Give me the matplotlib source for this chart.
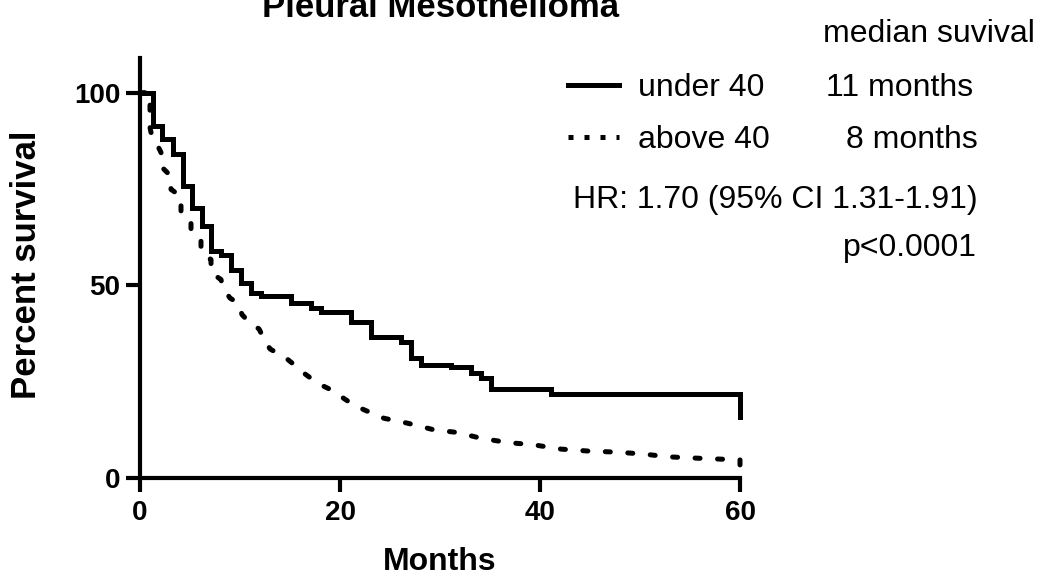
import matplotlib
matplotlib.use('Agg')
import matplotlib.pyplot as plt
from matplotlib.lines import Line2D

plt.rcParams['font.family'] = ['Liberation Sans', 'DejaVu Sans']

# 数据：Kaplan-Meier 曲线
under40_t = [0, 1.3, 2.2, 3.3, 4.3, 5.2, 6.2, 7.1, 8.1, 9.1, 10.1, 11.1, 12.1, 15.1, 17.1, 18.1,
             21.1, 23.1, 26.1, 27.1, 28.1, 31.1, 33.1, 34.1, 35.1, 41.1, 60]
under40_s = [100, 91.3, 87.9, 84.0, 75.8, 70.2, 65.4, 58.9, 58.0, 54.1, 50.7, 48.1, 47.2, 45.5, 44.0, 43.0,
             40.6, 36.7, 35.4, 31.2, 29.4, 28.9, 27.3, 26.0, 23.1, 21.8, 15.9]

# above 40：事件很密，按曲线上读到的点连线
above40_t = [0, 1.0, 1.0, 1.1, 2.1, 2.1, 3.1, 3.1, 4.1, 4.1, 5.1, 5.1, 6.1, 6.1, 7.1, 7.1, 8.1, 8.3, 9.0,
             9.8, 10.2, 11.0, 11.9, 12.4, 13.0, 14.0, 14.8, 15.7, 16.5, 17.4, 18.3, 19.1, 21.1, 22.4,
             24.4, 26.8, 29.4, 31.8, 34.1, 36.8, 39.4, 42.1, 44.8, 47.8, 50.4, 52.8, 56.1, 60, 60]
above40_s = [100, 100, 91.0, 89.7, 84.5, 80.9, 78.3, 74.9, 73.1, 69.2, 67.1, 64.0, 61.9, 58.5, 56.7, 53.3, 51.5, 49.3, 46.7,
             45.4, 42.4, 40.2, 38.7, 36.1, 33.5, 32.0, 30.7, 28.8, 27.0, 25.3, 23.9, 22.9, 19.4, 17.7,
             15.5, 14.2, 12.5, 11.8, 10.3, 9.2, 8.6, 7.5, 7.0, 6.7, 6.2, 5.5, 5.1, 4.7, 3.4]

labels = ['under 40', 'above 40']
medians = ['11 months', '8 months']
xticks = [0, 20, 40, 60]
yticks = [0, 50, 100]

W, H = 1043, 578
fig = plt.figure(figsize=(W / 100, H / 100), dpi=100)
ax = fig.add_axes([140 / W, 1 - 478 / H, 600 / W, 420 / H])

ax.step(under40_t, under40_s, where='post', color='black', lw=3.6, clip_on=False,
        solid_joinstyle='miter')
ax.plot(above40_t, above40_s, color='black', lw=3.6, clip_on=False,
        linestyle=(0, (1, 3.5)), dash_capstyle='round')

ax.set_xlim(0, 60)
ax.set_ylim(0, 109)
ax.set_xticks(xticks)
ax.set_yticks(yticks)
for s in ['top', 'right']:
    ax.spines[s].set_visible(False)
for s in ['left', 'bottom']:
    ax.spines[s].set_linewidth(3)
ax.tick_params(width=3, length=10, labelsize=20)
ax.tick_params(axis='x', pad=6)
ax.tick_params(axis='y', pad=4)
for t in ax.get_xticklabels() + ax.get_yticklabels():
    t.set_fontweight('bold')

fig.text(440 / W, 1 - 17 / H, 'Pleural Mesothelioma', ha='center', va='baseline',
         fontsize=25, fontweight='bold')
fig.text(440 / W, 1 - 562 / H, 'Months', ha='center', va='center', fontsize=23, fontweight='bold')
fig.text(27 / W, 1 - 265 / H, 'Percent survival', ha='center', va='center', rotation=90,
         fontsize=25, fontweight='bold')

# 图例
h1 = Line2D([], [], color='black', lw=3.6)
h2 = Line2D([], [], color='black', lw=3.6, linestyle=(0, (1, 2.2)))
ax.legend(handles=[h1, h2], labels=labels, loc='upper left', bbox_to_anchor=(568 / W, 1 - 73 / H),
          bbox_transform=fig.transFigure, frameon=False, fontsize=23, handlelength=1.6,
          handletextpad=0.6, labelspacing=0.69, borderpad=0, borderaxespad=0)

fig.text(1035 / W, 1 - 34 / H, 'median suvival', ha='right', va='center', fontsize=23)
fig.text(973 / W, 1 - 88 / H, medians[0], ha='right', va='center', fontsize=23)
fig.text(978 / W, 1 - 140 / H, medians[1], ha='right', va='center', fontsize=23)
fig.text(573 / W, 1 - 200 / H, 'HR: 1.70 (95% CI 1.31-1.91)', ha='left', va='center', fontsize=23)
fig.text(977 / W, 1 - 248 / H, 'p<0.0001', ha='right', va='center', fontsize=23)

fig.savefig('out.png', dpi=100)
